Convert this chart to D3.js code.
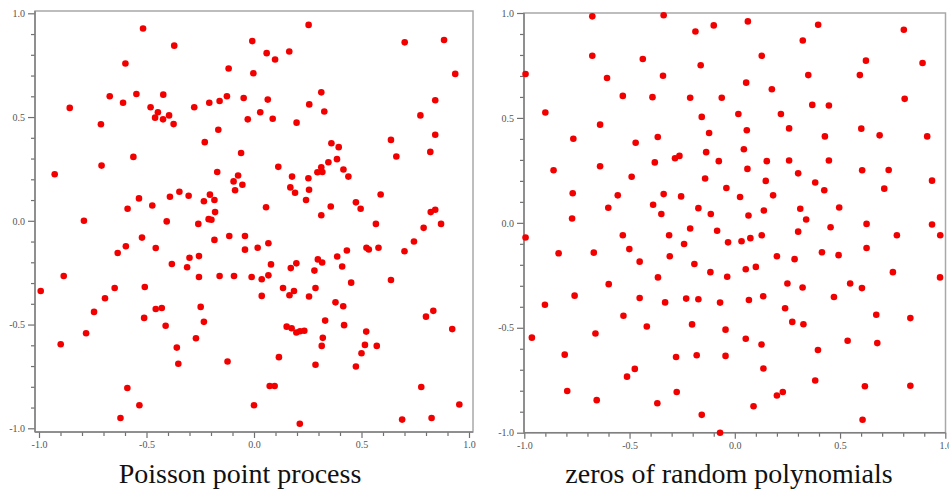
<!DOCTYPE html>
<html>
<head>
<meta charset="utf-8">
<script src="https://cdn.jsdelivr.net/npm/d3@7"></script>
<style>
  body { margin: 0; background: #fff; }
  svg { display: block; }
</style>
</head>
<body>
<svg id="chart"></svg>
<script>
// Canvas size
const width = 949;
const height = 490;

// Points of the Poisson process, [x, y]
const poissonPoints = [
  [-0.927,0.224],[-0.857,0.544],[-0.791,0.000],[-0.712,0.465],[-0.709,0.266],[-0.671,0.600],[-0.609,0.569],[-0.598,0.758],
  [-0.547,0.611],[-0.561,0.308],[-0.535,0.108],[-0.588,0.058],[-0.516,0.927],[-0.521,-0.081],[-0.481,0.547],[-0.460,0.497],
  [-0.447,0.523],[-0.423,0.489],[-0.422,0.608],[-0.395,0.508],[-0.374,0.466],[-0.371,0.844],[-0.473,0.074],[-0.406,-0.003],
  [-0.391,0.116],[-0.347,0.140],[-0.304,0.121],[-0.278,0.547],[-0.259,-0.015],[-0.229,0.379],[-0.233,0.094],[-0.208,0.569],
  [-0.205,0.126],[-0.211,0.008],[-0.198,0.005],[-0.184,0.100],[-0.181,0.042],[-0.184,-0.092],[-0.171,0.235],[-0.166,0.439],
  [-0.160,0.577],[-0.126,0.600],[-0.118,0.734],[-0.115,-0.073],[-0.095,0.190],[-0.088,0.147],[-0.074,0.218],[-0.054,0.174],
  [-0.060,0.327],[-0.048,0.592],[-0.042,-0.073],[-0.029,0.489],[-0.008,0.866],[-0.003,0.711],[0.029,0.523],[0.056,0.065],
  [0.059,0.808],[0.064,0.584],[0.067,-0.108],[0.087,0.492],[0.098,0.777],[0.113,0.260],[0.164,0.816],[0.169,0.161],
  [0.177,0.213],[0.191,0.135],[0.198,0.473],[0.242,0.100],[0.253,0.205],[0.256,0.150],[0.254,0.944],[0.257,0.561],
  [0.295,0.234],[0.313,0.258],[0.318,0.235],[0.313,0.619],[0.313,0.027],[0.327,0.527],[0.346,0.282],[0.360,0.374],
  [0.357,0.069],[0.386,0.297],[0.394,0.355],[0.416,0.247],[0.439,0.213],[0.474,0.089],[0.496,0.058],[0.567,-0.015],
  [0.589,0.127],[0.637,0.390],[0.662,0.310],[0.701,0.860],[0.744,-0.100],[0.774,0.508],[0.789,-0.034],[0.820,0.332],
  [0.822,0.042],[0.843,0.053],[0.843,0.581],[0.843,0.415],[0.870,-0.015],[0.884,0.871],[0.936,0.708],
  [-0.992,-0.338],[-0.885,-0.266],[-0.899,-0.595],[-0.781,-0.542],[-0.744,-0.439],[-0.693,-0.373],[-0.648,-0.324],[-0.634,-0.155],
  [-0.596,-0.123],[-0.589,-0.806],[-0.621,-0.950],[-0.533,-0.889],[-0.508,-0.319],[-0.511,-0.468],[-0.457,-0.131],[-0.457,-0.425],
  [-0.429,-0.420],[-0.411,-0.506],[-0.382,-0.208],[-0.359,-0.611],[-0.352,-0.689],[-0.311,-0.224],[-0.300,-0.178],[-0.270,-0.566],
  [-0.256,-0.170],[-0.256,-0.271],[-0.248,-0.415],[-0.233,-0.487],[-0.160,-0.266],[-0.123,-0.678],[-0.093,-0.266],[-0.042,-0.139],
  [-0.011,-0.271],[0.000,-0.889],[0.017,-0.130],[0.036,-0.282],[0.036,-0.362],[0.067,-0.263],[0.073,-0.796],[0.096,-0.796],
  [0.079,-0.210],[0.116,-0.657],[0.135,-0.324],[0.152,-0.510],[0.165,-0.359],[0.171,-0.228],[0.175,-0.518],[0.186,-0.338],
  [0.197,-0.205],[0.197,-0.538],[0.213,-0.978],[0.214,-0.532],[0.234,-0.530],[0.256,-0.365],[0.281,-0.240],[0.286,-0.324],
  [0.286,-0.694],[0.297,-0.186],[0.317,-0.201],[0.320,-0.564],[0.315,-0.603],[0.331,-0.481],[0.379,-0.393],[0.387,-0.172],
  [0.410,-0.220],[0.415,-0.412],[0.419,-0.503],[0.432,-0.143],[0.452,-0.298],[0.474,-0.702],[0.500,-0.638],[0.516,-0.598],
  [0.522,-0.534],[0.523,-0.130],[0.534,-0.138],[0.571,-0.603],[0.579,-0.130],[0.637,-0.285],[0.689,-0.958],[0.700,-0.147],
  [0.778,-0.801],[0.800,-0.462],[0.826,-0.950],[0.834,-0.434],[0.922,-0.522],[0.955,-0.885]
];

// Zeros of a random polynomial, [x, y]
const polyZeros = [
  [-0.994,0.709],[-0.994,-0.070],[-0.900,0.526],[-0.861,0.251],[-0.767,0.401],[-0.770,0.141],[-0.773,0.021],[-0.677,0.984],
  [-0.677,0.796],[-0.640,0.468],[-0.640,0.270],[-0.607,0.690],[-0.601,0.072],[-0.556,0.131],[-0.532,0.605],[-0.532,-0.059],
  [-0.490,0.220],[-0.471,0.382],[-0.437,0.781],[-0.391,0.599],[-0.388,0.086],[-0.380,0.288],[-0.366,0.409],[-0.349,0.042],
  [-0.341,0.701],[-0.338,0.989],[-0.338,0.137],[-0.312,-0.059],[-0.284,0.308],[-0.263,0.319],[-0.255,0.126],[-0.241,-0.101],
  [-0.212,0.596],[-0.212,-0.027],[-0.187,0.912],[-0.173,0.070],[-0.162,0.751],[-0.157,0.505],[-0.136,0.337],[-0.141,0.211],
  [-0.122,0.428],[-0.114,0.042],[-0.100,0.941],[-0.084,-0.038],[-0.076,0.294],[-0.062,0.596],[-0.040,0.166],[-0.032,-0.093],
  [0.017,0.519],[0.025,0.123],[0.032,-0.088],[0.043,0.351],[0.054,0.668],[0.057,0.441],[0.060,0.257],[0.062,0.960],
  [0.065,0.035],[0.074,-0.073],[0.128,0.796],[0.138,0.059],[0.128,-0.059],[0.147,0.200],[0.152,0.294],[0.176,0.637],
  [0.182,0.131],[0.219,0.519],[0.258,0.450],[0.258,0.297],[0.301,0.236],[0.311,0.067],[0.301,-0.042],[0.323,0.869],
  [0.339,0.016],[0.349,0.704],[0.368,0.562],[0.382,0.192],[0.396,0.944],[0.425,0.155],[0.428,0.412],[0.447,0.559],
  [0.447,0.297],[0.455,-0.021],[0.496,0.073],[0.594,0.704],[0.601,0.449],[0.605,0.251],[0.623,0.773],[0.626,-0.005],
  [0.688,0.417],[0.710,0.163],[0.731,0.252],[0.770,-0.059],[0.803,0.920],[0.807,0.591],[0.892,0.762],[0.914,0.412],
  [0.937,0.201],[0.937,-0.008],[0.976,-0.059],
  [-0.964,-0.547],[-0.902,-0.390],[-0.837,-0.145],[-0.808,-0.628],[-0.796,-0.801],[-0.761,-0.347],[-0.670,-0.142],[-0.662,-0.527],
  [-0.656,-0.845],[-0.599,-0.292],[-0.529,-0.443],[-0.512,-0.733],[-0.501,-0.125],[-0.475,-0.696],[-0.452,-0.185],[-0.452,-0.358],
  [-0.418,-0.494],[-0.368,-0.860],[-0.365,-0.260],[-0.331,-0.379],[-0.309,-0.159],[-0.279,-0.639],[-0.276,-0.806],[-0.231,-0.361],
  [-0.203,-0.484],[-0.192,-0.196],[-0.181,-0.631],[-0.173,-0.364],[-0.157,-0.915],[-0.116,-0.235],[-0.070,-0.380],[-0.070,-1.000],
  [-0.044,-0.509],[-0.044,-0.634],[-0.036,-0.257],[0.052,-0.221],[0.052,-0.552],[0.067,-0.368],[0.089,-0.874],[0.100,-0.210],
  [0.127,-0.580],[0.135,-0.350],[0.136,-0.694],[0.200,-0.159],[0.200,-0.823],[0.228,-0.806],[0.239,-0.407],[0.250,-0.289],
  [0.273,-0.472],[0.284,-0.173],[0.322,-0.308],[0.326,-0.483],[0.382,-0.751],[0.395,-0.606],[0.414,-0.140],[0.471,-0.353],
  [0.493,-0.154],[0.536,-0.562],[0.548,-0.289],[0.604,-0.311],[0.607,-0.938],[0.618,-0.779],[0.626,-0.120],[0.672,-0.438],
  [0.677,-0.573],[0.751,-0.235],[0.834,-0.454],[0.834,-0.776],[0.975,-0.260]
];

// Tick values and titles
const majorTicks = [-1.0, -0.5, 0.0, 0.5, 1.0];
const minorTicks = d3.range(-10, 11).filter(i => i % 5 !== 0).map(i => i / 10);
const titles = ["Poisson point process", "zeros of random polynomials"];

// Layout of the two panels (pixel frame and where -1 / 1 land)
const panels = [
  { points: poissonPoints, title: titles[0], titleX: 240,
    frame: { left: 35, right: 473, top: 11, bottom: 432 },
    xRange: [39, 469], yRange: [428.3, 13.3] },
  { points: polyZeros, title: titles[1], titleX: 729,
    frame: { left: 524, right: 945.5, top: 13, bottom: 432.7 },
    xRange: [524.3, 945.3], yRange: [432.7, 13] }
];

const svg = d3.select("#chart")
  .attr("width", width)
  .attr("height", height);

const fmt = d => d.toFixed(1);

panels.forEach(p => {
  const x = d3.scaleLinear().domain([-1, 1]).range(p.xRange);
  const y = d3.scaleLinear().domain([-1, 1]).range(p.yRange);
  const f = p.frame;
  const g = svg.append("g");

  // light grey box around the plot
  g.append("rect")
    .attr("x", f.left).attr("y", f.top)
    .attr("width", f.right - f.left).attr("height", f.bottom - f.top)
    .attr("fill", "none")
    .attr("stroke", "#a8a8a8")
    .attr("stroke-width", 1.5);

  // y axis, major then minor ticks
  const yMajor = g.append("g")
    .attr("transform", `translate(${f.left},0)`)
    .call(d3.axisLeft(y).tickValues(majorTicks).tickFormat(fmt).tickSize(7).tickPadding(3));
  const yMinor = g.append("g")
    .attr("transform", `translate(${f.left},0)`)
    .call(d3.axisLeft(y).tickValues(minorTicks).tickFormat("").tickSize(4));

  // x axis
  const xMajor = g.append("g")
    .attr("transform", `translate(0,${f.bottom})`)
    .call(d3.axisBottom(x).tickValues(majorTicks).tickFormat(fmt).tickSize(6).tickPadding(3));
  const xMinor = g.append("g")
    .attr("transform", `translate(0,${f.bottom})`)
    .call(d3.axisBottom(x).tickValues(minorTicks).tickFormat("").tickSize(4));

  [yMajor, yMinor, xMajor, xMinor].forEach(a => {
    a.select(".domain").remove();
    a.selectAll(".tick line").attr("stroke", "#707070").attr("stroke-width", 1.2);
    a.selectAll(".tick text")
      .attr("fill", "#555")
      .style("font-family", "'Liberation Serif', 'DejaVu Serif', serif")
      .style("font-size", "10px");
  });

  // darker left and bottom axis lines
  g.append("line")
    .attr("x1", f.left).attr("x2", f.left)
    .attr("y1", f.top).attr("y2", f.bottom)
    .attr("stroke", "#808080").attr("stroke-width", 1.5);
  g.append("line")
    .attr("x1", f.left).attr("x2", f.right)
    .attr("y1", f.bottom).attr("y2", f.bottom)
    .attr("stroke", "#808080").attr("stroke-width", 1.5);

  // the points
  g.selectAll("circle")
    .data(p.points)
    .enter().append("circle")
    .attr("cx", d => x(d[0]))
    .attr("cy", d => y(d[1]))
    .attr("r", 3.3)
    .attr("fill", "#f20000");

  // caption under the panel
  svg.append("text")
    .attr("x", p.titleX)
    .attr("y", 483)
    .attr("text-anchor", "middle")
    .style("font-family", "'Liberation Serif', 'DejaVu Serif', serif")
    .style("font-size", "28px")
    .attr("fill", "#111")
    .text(p.title);
});
</script>
</body>
</html>
